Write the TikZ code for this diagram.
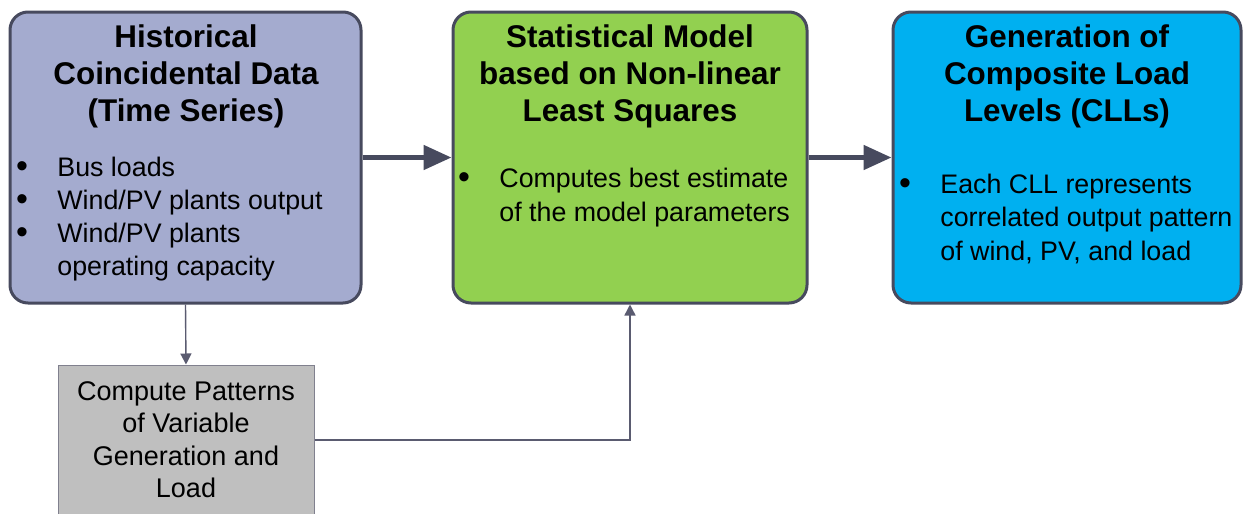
\documentclass[tikz,border=0pt]{standalone}
\usepackage{fontspec}
\setmainfont{Liberation Sans}
\usetikzlibrary{arrows.meta}
\definecolor{boxedge}{HTML}{474A5E}
\definecolor{histfill}{HTML}{A4ABCF}
\definecolor{statfill}{HTML}{92D050}
\definecolor{cllfill}{HTML}{00B0F0}
\definecolor{patfill}{HTML}{BFBFBF}
\definecolor{patedge}{HTML}{80808E}
\definecolor{linegray}{HTML}{5A5B70}
\tikzset{
  box/.style={draw=boxedge, line width=1.5pt, rounded corners=9pt, inner sep=0pt},
  ttl/.style={anchor=base, inner sep=0pt, font=\fontsize{15.7}{18}\selectfont\bfseries},
  txt/.style={anchor=base west, inner sep=0pt, font=\fontsize{13.4}{15}\selectfont},
  ctxt/.style={anchor=base, inner sep=0pt, font=\fontsize{13.5}{15}\selectfont},
  dot/.style={anchor=base, inner sep=0pt, font=\fontsize{17}{15}\selectfont},
  bigarrow/.style={-{Triangle[length=14pt,width=12pt]}, line width=2.5pt, draw=boxedge},
  thinarrow/.style={-{Triangle[length=5.5pt,width=5.5pt]}, line width=0.7pt, draw=linegray},
}
\begin{document}
\begin{tikzpicture}[x=0.5pt,y=-0.5pt]
\useasboundingbox (0,0) rectangle (1243,514);
\clip (0,0) rectangle (1243,514);

% boxes
\node[box, fill=histfill, minimum width=175.5pt, minimum height=145.5pt] (hist) at (185.5,157.5) {};
\node[box, fill=statfill, minimum width=177pt, minimum height=145.5pt] (stat) at (630,157.5) {};
\node[box, fill=cllfill, minimum width=174pt, minimum height=145.5pt] (cll) at (1067,157.5) {};
\node[draw=patedge, line width=0.5pt, fill=patfill, minimum width=128pt, minimum height=75pt, inner sep=0pt] (pat) at (186,440) {};

% titles
\foreach \t [count=\i] in {Historical, Coincidental Data, (Time Series)}
  \node[ttl] (hist-t\i) at (186,10+37*\i) {\t};
\foreach \t [count=\i] in {Statistical Model, based on Non-linear, Least Squares}
  \node[ttl] (stat-t\i) at (630,10+37*\i) {\t};
\foreach \t [count=\i] in {Generation of, Composite Load, Levels (CLLs)}
  \node[ttl] (cll-t\i) at (1067,10+37*\i) {\t};

% bullet lists
\node[dot] (hist-d1) at (22,177) {•};
\node[dot] (hist-d2) at (22,210) {•};
\node[dot] (hist-d3) at (22,243) {•};
\node[txt] (hist-l1) at (57,176) {Bus loads};
\node[txt] (hist-l2) at (57,209) {Wind/PV plants output};
\node[txt] (hist-l3) at (57,242) {Wind/PV plants};
\node[txt] (hist-l4) at (57,275) {operating capacity};

\node[dot] (stat-d1) at (464,188) {•};
\node[txt] (stat-l1) at (499,187) {Computes best estimate};
\node[txt] (stat-l2) at (499,221) {of the model parameters};

\node[dot] (cll-d1) at (905,194) {•};
\node[txt] (cll-l1) at (940,193) {Each CLL represents};
\node[txt] (cll-l2) at (940,226) {correlated output pattern};
\node[txt] (cll-l3) at (940,260) {of wind, PV, and load};

\foreach \t [count=\i] in {Compute Patterns, of Variable, Generation and, Load}
  \node[ctxt] (pat-l\i) at (186,367.5+32.5*\i) {\t};

% connectors
\draw[bigarrow] (hist.east) -- (stat.west);
\draw[bigarrow] (stat.east) -- (cll.west);
\draw[thinarrow] (hist.south) -- (pat.north);
\draw[thinarrow] (pat.east) -| (stat.south);
\end{tikzpicture}
\end{document}
